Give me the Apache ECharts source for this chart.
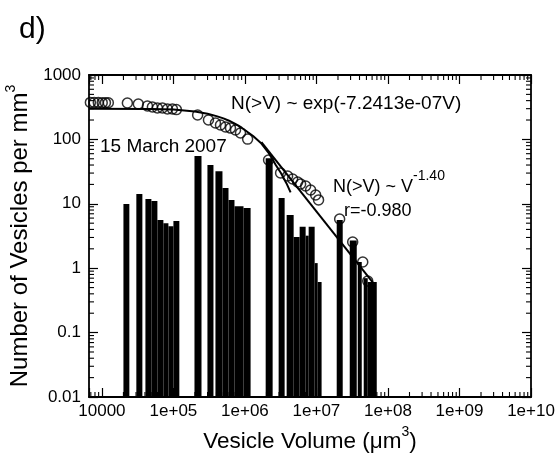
<!DOCTYPE html>
<html>
<head>
<meta charset="utf-8">
<script src="https://cdn.jsdelivr.net/npm/echarts@6/dist/echarts.min.js"></script>
<style>
  html, body { margin: 0; padding: 0; background: #fff; }
  #main { width: 560px; height: 454px; }
</style>
</head>
<body>
<div id="main"></div>
<script>
// histogram bins: volume range (um^3) and vesicles per mm^3
var binLo = [2.0e4, 3.03e4, 4.06e4, 4.92e4, 5.97e4, 7.24e4, 8.51e4, 1.0e5,
  1.97e5, 2.99e5, 3.87e5, 4.85e5, 5.89e5, 7.14e5, 9.55e5,
  1.95e6, 2.96e6, 3.83e6, 4.80e6, 5.82e6, 7.06e6, 7.78e6, 9.44e6, 1.04e7,
  1.92e7, 2.92e7, 3.78e7, 4.58e7, 5.21e7];
var binHi = [2.42e4, 3.68e4, 4.92e4, 5.97e4, 7.24e4, 8.51e4, 1.0e5, 1.21e5,
  2.47e5, 3.63e5, 4.85e5, 5.89e5, 7.14e5, 9.55e5, 1.20e6,
  2.44e6, 3.59e6, 4.80e6, 5.82e6, 7.06e6, 7.78e6, 9.44e6, 1.04e7, 1.18e7,
  2.33e7, 3.66e7, 4.30e7, 5.21e7, 6.97e7];
var binN = [9.9, 14.2, 11.9, 11.1, 5.6, 5.0, 4.5, 5.4,
  55, 40, 32, 17.6, 11.5, 9.2, 8.6,
  51, 12.3, 6.7, 3.05, 4.4, 3.2, 4.4, 1.2, 0.61,
  5.6, 2.7, 1.25, 0.70, 0.61];

// cumulative N(>V), open circles
var cumV = [6.9e3, 7.8e3, 8.9e3, 1.01e4, 1.12e4, 1.23e4,
  2.27e4, 3.23e4, 4.33e4, 5.08e4, 5.97e4, 7.02e4, 8.25e4, 9.69e4, 1.10e5,
  2.18e5, 3.09e5, 3.87e5, 4.55e5, 5.35e5, 6.28e5, 7.38e5, 8.67e5, 1.09e6,
  2.14e6, 3.15e6, 3.95e6, 4.64e6, 5.46e6, 6.01e6, 7.06e6, 8.29e6, 9.75e6, 1.07e7,
  2.11e7, 3.21e7, 4.44e7, 5.21e7];
var cumN = [375, 374, 373, 372, 372, 371,
  367, 355, 330, 319, 307, 307, 297, 297, 290,
  239, 200, 180, 167, 156, 150, 140, 126, 101,
  47.9, 30.1, 27.0, 24.3, 21.8, 20.3, 18.9, 16.4, 13.7, 11.5,
  5.8, 2.55, 1.25, 0.63];

// exponential fit curve
var expV = [6.6e3, 5e4, 1e5, 2e5, 3e5, 4e5, 5e5, 6e5, 7e5, 8e5, 9e5, 1.09e6,
  1.3e6, 1.67e6, 2.14e6, 2.7e6, 3.2e6, 3.8e6, 4.35e6];
var expN = [300, 296, 292, 272, 250, 230, 212, 195, 179, 165, 152, 130,
  113, 88, 62, 40, 29.8, 20.9, 15];

// power-law fit line
var powV = [1.7e6, 6.2e7];
var powN = [91, 0.59];

var xTickValues = [1e4, 1e5, 1e6, 1e7, 1e8, 1e9, 1e10];
var xTickLabels = ['10000', '1e+05', '1e+06', '1e+07', '1e+08', '1e+09', '1e+10'];
var yTickValues = [0.01, 0.1, 1, 10, 100, 1000];
var yTickLabels = ['0.01', '0.1', '1', '10', '100', '1000'];

var xMin = 6600, xMax = 1e10, yMin = 0.01, yMax = 1000;
var FONT = '"Liberation Sans", Arial, Helvetica, sans-serif';

function pickLabel(values, labels) {
  return function (v) {
    var e = Math.log10(v);
    for (var i = 0; i < values.length; i++) {
      if (Math.abs(Math.log10(values[i]) - e) < 1e-6) return labels[i];
    }
    return '';
  };
}

// minor tick values 2..9 per decade
function minors(lo, hi) {
  var out = [];
  for (var k = Math.floor(Math.log10(lo)); k < Math.ceil(Math.log10(hi)); k++) {
    for (var m = 2; m <= 9; m++) {
      var v = m * Math.pow(10, k);
      if (v > lo && v < hi) out.push(v);
    }
  }
  return out;
}
var xMinor = minors(xMin, xMax);
var yMinor = minors(yMin, yMax);

// rich styles for a raised "3"
function supRich(size) {
  return {
    t: { fontSize: size, lineHeight: size + 4, fontFamily: FONT, color: '#000', verticalAlign: 'bottom' },
    sup: { fontSize: 14, lineHeight: 14, padding: [0, 0, 14, 0], fontFamily: FONT, color: '#000', verticalAlign: 'bottom' }
  };
}

var chartDom = document.getElementById('main');
var myChart = echarts.init(chartDom);

var axisCommon = {
  axisLine: { show: true, lineStyle: { color: '#000', width: 1.8 } },
  axisTick: { show: true, inside: true, length: 9, lineStyle: { color: '#000', width: 1.2 } },
  splitLine: { show: false }
};

var option = {
  animation: false,
  backgroundColor: '#fff',
  textStyle: { fontFamily: FONT },
  grid: { left: 89, right: 29, top: 75, bottom: 57, outerBoundsMode: 'none' },
  xAxis: [
    Object.assign({
      type: 'log', min: xMin, max: xMax, position: 'bottom',
      name: '{t|Vesicle Volume (\u03bcm}{sup|3}{t|)}',
      nameLocation: 'middle', nameGap: 23,
      nameTextStyle: { rich: supRich(22.5) },
      axisLabel: { fontSize: 17, color: '#000', margin: 6, fontFamily: FONT,
        formatter: pickLabel(xTickValues, xTickLabels) }
    }, axisCommon),
    Object.assign({
      type: 'log', min: xMin, max: xMax, position: 'top',
      axisLabel: { show: false }
    }, axisCommon)
  ],
  yAxis: [
    Object.assign({
      type: 'log', min: yMin, max: yMax, position: 'left',
      name: '{t|Number of Vesicles per mm}{sup|3}',
      nameLocation: 'middle', nameGap: 54,
      nameTextStyle: { rich: supRich(24) },
      axisLabel: { fontSize: 17, color: '#000', margin: 8, fontFamily: FONT,
        formatter: pickLabel(yTickValues, yTickLabels) }
    }, axisCommon),
    Object.assign({
      type: 'log', min: yMin, max: yMax, position: 'right',
      axisLabel: { show: false }
    }, axisCommon)
  ],
  graphic: [
    { type: 'text', x: 19, y: 30,
      style: { text: 'd)', font: '30px ' + FONT, fill: '#000',
        textVerticalAlign: 'middle', verticalAlign: 'middle' } },
    { type: 'text', x: 231, y: 104,
      style: { text: 'N(>V) ~ exp(-7.2413e-07V)', font: '19px ' + FONT, fill: '#000',
        textVerticalAlign: 'middle', verticalAlign: 'middle' } },
    { type: 'text', x: 100, y: 147,
      style: { text: '15 March 2007', font: '19px ' + FONT, fill: '#000',
        textVerticalAlign: 'middle', verticalAlign: 'middle' } },
    { type: 'text', x: 333, y: 185,
      style: { text: '{a|N(>V) ~ V}{s|-1.40}', fill: '#000',
        textVerticalAlign: 'middle', verticalAlign: 'middle',
        rich: {
          a: { fontSize: 18, lineHeight: 22, fontFamily: FONT, color: '#000', verticalAlign: 'bottom' },
          s: { fontSize: 14, lineHeight: 14, padding: [0, 0, 13, 0], fontFamily: FONT, color: '#000', verticalAlign: 'bottom' }
        } } },
    { type: 'text', x: 344, y: 211,
      style: { text: 'r=-0.980', font: '18px ' + FONT, fill: '#000',
        textVerticalAlign: 'middle', verticalAlign: 'middle' } }
  ],
  series: [
    {
      // histogram bars, drawn from bin edges down to the axis floor
      type: 'custom',
      z: 2,
      data: binLo.map(function (lo, i) { return [lo, binHi[i], binN[i]]; }),
      encode: { x: [0, 1], y: 2 },
      renderItem: function (params, api) {
        var p0 = api.coord([api.value(0), api.value(2)]);
        var p1 = api.coord([api.value(1), yMin]);
        return {
          type: 'rect',
          shape: { x: p0[0], y: p0[1], width: p1[0] - p0[0], height: p1[1] - p0[1] },
          style: { fill: '#000' }
        };
      }
    },
    {
      // minor ticks on all four sides
      type: 'custom',
      z: 5,
      silent: true,
      clip: false,
      data: [[1e6, 1]],
      renderItem: function (params, api) {
        var kids = [];
        var st = { stroke: '#000', lineWidth: 1.1 };
        xMinor.forEach(function (v) {
          var b = api.coord([v, yMin]), t = api.coord([v, yMax]);
          kids.push({ type: 'line', shape: { x1: b[0], y1: b[1], x2: b[0], y2: b[1] - 5 }, style: st });
          kids.push({ type: 'line', shape: { x1: t[0], y1: t[1], x2: t[0], y2: t[1] + 5 }, style: st });
        });
        yMinor.forEach(function (v) {
          var l = api.coord([xMin, v]), r = api.coord([xMax, v]);
          kids.push({ type: 'line', shape: { x1: l[0], y1: l[1], x2: l[0] + 5, y2: l[1] }, style: st });
          kids.push({ type: 'line', shape: { x1: r[0], y1: r[1], x2: r[0] - 5, y2: r[1] }, style: st });
        });
        return { type: 'group', children: kids };
      }
    },
    {
      type: 'scatter',
      z: 3,
      clip: false,
      symbol: 'circle',
      symbolSize: 10,
      itemStyle: { color: 'rgba(0,0,0,0)', borderColor: '#000', borderWidth: 1.5 },
      data: cumV.map(function (v, i) { return [v, cumN[i]]; })
    },
    {
      type: 'line',
      z: 4,
      showSymbol: false,
      lineStyle: { color: '#000', width: 2 },
      data: expV.map(function (v, i) { return [v, expN[i]]; })
    },
    {
      type: 'line',
      z: 4,
      showSymbol: false,
      lineStyle: { color: '#000', width: 2 },
      data: powV.map(function (v, i) { return [v, powN[i]]; })
    }
  ]
};

myChart.setOption(option);
</script>
</body>
</html>
